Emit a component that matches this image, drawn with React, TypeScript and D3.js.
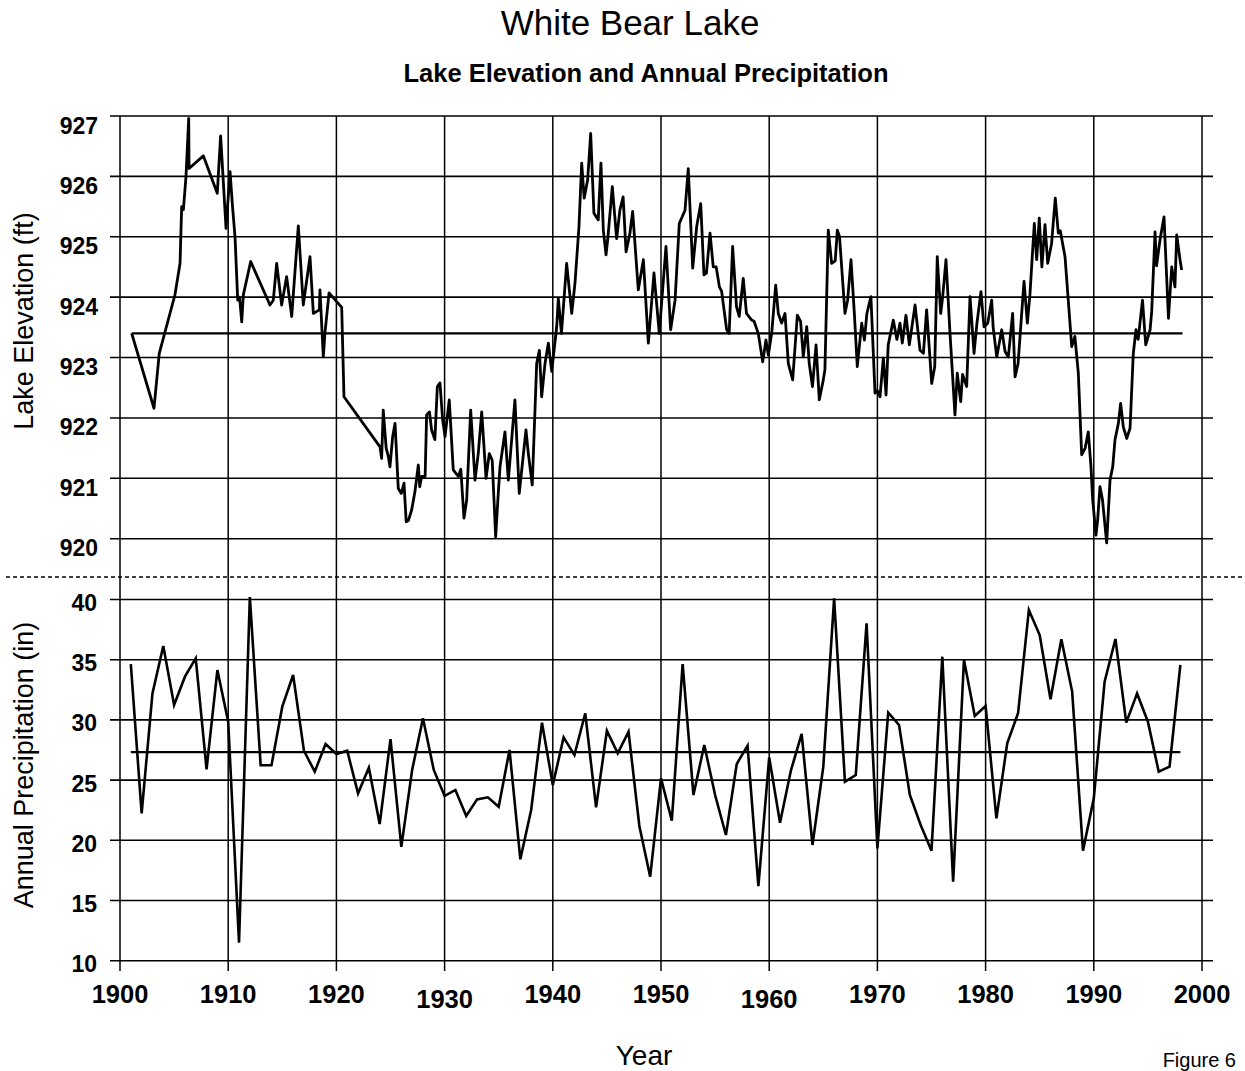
import React from "react";
import * as d3 from "d3";

// ---- Data ----
const elevYears = [
  1901.08, 1903.14, 1903.63, 1905.08, 1905.55, 1905.7, 1905.86, 1906.1, 1906.35, 1906.38,
  1907.7, 1908.99, 1909.3, 1909.8, 1910.17, 1910.4, 1910.63, 1910.88, 1911.05, 1911.25,
  1911.4, 1912.08, 1913.86, 1914.17, 1914.48, 1914.94, 1915.4, 1915.87, 1916.48, 1916.94,
  1917.56, 1917.87, 1918.43, 1918.48, 1918.79, 1918.94, 1919.32, 1920.49, 1920.7, 1924.03,
  1924.18, 1924.33, 1924.6, 1924.8, 1924.95, 1925.2, 1925.42, 1925.72, 1926.0, 1926.25,
  1926.45, 1926.65, 1926.96, 1927.26, 1927.57, 1927.7, 1927.88, 1928.2, 1928.34, 1928.6,
  1928.8, 1929.1, 1929.33, 1929.57, 1929.82, 1930.04, 1930.43, 1930.8, 1931.27, 1931.5,
  1931.79, 1932.04, 1932.41, 1932.81, 1933.11, 1933.43, 1933.83, 1934.13, 1934.4, 1934.72,
  1934.96, 1935.12, 1935.58, 1935.89, 1936.5, 1936.9, 1937.52, 1937.74, 1938.1, 1938.51,
  1938.76, 1938.97, 1939.28, 1939.59, 1939.9, 1940.36, 1940.51, 1940.8, 1941.28, 1941.75,
  1942.05, 1942.42, 1942.67, 1942.9, 1943.22, 1943.5, 1943.8, 1944.2, 1944.45, 1944.67,
  1944.92, 1945.1, 1945.5, 1945.9, 1946.2, 1946.5, 1946.77, 1947.13, 1947.38, 1947.9,
  1948.37, 1948.83, 1949.35, 1949.84, 1950.46, 1950.89, 1951.3, 1951.69, 1952.22, 1952.52,
  1952.93, 1953.3, 1953.67, 1953.97, 1954.2, 1954.53, 1954.83, 1955.1, 1955.4, 1955.6,
  1956.07, 1956.3, 1956.62, 1956.98, 1957.23, 1957.6, 1957.9, 1958.38, 1958.6, 1958.99,
  1959.4, 1959.7, 1959.92, 1960.23, 1960.6, 1960.84, 1961.15, 1961.46, 1961.77, 1962.17,
  1962.6, 1962.9, 1963.15, 1963.47, 1963.7, 1964.0, 1964.33, 1964.63, 1965.0, 1965.15,
  1965.46, 1965.77, 1966.1, 1966.3, 1966.5, 1967.0, 1967.25, 1967.56, 1967.87, 1968.14,
  1968.55, 1968.8, 1969.03, 1969.4, 1969.78, 1970.0, 1970.24, 1970.55, 1970.8, 1971.0,
  1971.47, 1971.8, 1972.09, 1972.3, 1972.64, 1972.95, 1973.48, 1973.94, 1974.25, 1974.55,
  1975.02, 1975.3, 1975.53, 1975.85, 1976.03, 1976.34, 1976.71, 1977.17, 1977.38, 1977.7,
  1977.87, 1978.25, 1978.56, 1978.93, 1979.2, 1979.57, 1979.85, 1980.2, 1980.56, 1980.7,
  1981.03, 1981.49, 1981.8, 1982.1, 1982.5, 1982.72, 1983.0, 1983.55, 1983.86, 1984.1,
  1984.5, 1984.72, 1984.96, 1985.2, 1985.49, 1985.74, 1986.1, 1986.44, 1986.72, 1986.9,
  1987.34, 1987.64, 1987.96, 1988.25, 1988.57, 1988.88, 1989.2, 1989.49, 1989.74, 1989.9,
  1990.2, 1990.35, 1990.57, 1990.8, 1991.19, 1991.5, 1991.75, 1991.96, 1992.27, 1992.48,
  1992.73, 1993.04, 1993.35, 1993.65, 1993.9, 1994.1, 1994.5, 1994.8, 1995.2, 1995.35,
  1995.66, 1995.8, 1996.12, 1996.49, 1996.9, 1997.2, 1997.5, 1997.66, 1997.97, 1998.12,
];
const elevFeet = [
  923.4, 922.16, 923.07, 924.04, 924.56, 925.5, 925.45, 926.0, 926.96, 926.13,
  926.34, 925.72, 926.67, 925.14, 926.08, 925.5, 925.0, 923.95, 924.0, 923.59,
  924.04, 924.59, 923.87, 923.95, 924.56, 923.87, 924.34, 923.68, 925.18, 923.87,
  924.67, 923.73, 923.79, 924.12, 923.01, 923.4, 924.07, 923.83, 922.35, 921.52,
  921.33, 922.13, 921.5, 921.36, 921.19, 921.69, 921.91, 920.83, 920.75, 920.92,
  920.28, 920.3, 920.48, 920.78, 921.22, 920.86, 921.03, 921.03, 922.05, 922.1,
  921.8, 921.64, 922.52, 922.58, 921.97, 921.69, 922.3, 921.14, 921.03, 921.15,
  920.34, 920.64, 922.13, 920.97, 921.41, 922.1, 921.0, 921.41, 921.3, 920.03,
  920.75, 921.19, 921.77, 920.97, 922.3, 920.75, 921.8, 921.41, 920.89, 922.9,
  923.12, 922.35, 922.9, 923.24, 922.77, 923.51, 923.98, 923.4, 924.56, 923.73,
  924.23, 925.17, 926.22, 925.64, 925.94, 926.71, 925.39, 925.28, 926.22, 925.11,
  924.7, 925.0, 925.83, 924.97, 925.44, 925.66, 924.75, 925.06, 925.42, 924.12,
  924.62, 923.24, 924.4, 923.4, 924.84, 923.46, 923.95, 925.22, 925.44, 926.13,
  924.48, 925.17, 925.55, 924.37, 924.4, 925.06, 924.5, 924.5, 924.17, 924.1,
  923.46, 923.4, 924.84, 923.84, 923.68, 924.31, 923.73, 923.62, 923.6, 923.4,
  922.93, 923.29, 923.04, 923.4, 924.2, 923.73, 923.57, 923.73, 922.9, 922.63,
  923.7, 923.6, 923.01, 923.51, 922.9, 922.52, 923.21, 922.3, 922.63, 922.8,
  925.11, 924.56, 924.6, 925.11, 925.0, 923.73, 923.95, 924.62, 923.73, 922.85,
  923.57, 923.29, 923.73, 924.01, 922.41, 922.45, 922.35, 922.99, 922.38, 923.21,
  923.62, 923.3, 923.57, 923.24, 923.7, 923.21, 923.87, 923.12, 923.07, 923.79,
  922.57, 922.85, 924.67, 923.73, 924.0, 924.62, 923.4, 922.05, 922.74, 922.27,
  922.72, 922.52, 924.01, 923.07, 923.57, 924.09, 923.51, 923.57, 923.95, 923.5,
  923.01, 923.46, 923.1, 923.01, 923.73, 922.68, 922.9, 924.26, 923.57, 924.05,
  925.22, 924.62, 925.31, 924.5, 925.2, 924.56, 924.89, 925.64, 925.06, 925.1,
  924.67, 923.95, 923.18, 923.35, 922.74, 921.39, 921.5, 921.77, 921.19, 920.64,
  920.06, 920.3, 920.86, 920.65, 919.93, 920.97, 921.19, 921.64, 921.91, 922.24,
  921.85, 921.66, 921.83, 923.07, 923.46, 923.3, 923.95, 923.21, 923.46, 923.76,
  925.08, 924.52, 924.95, 925.33, 923.65, 924.5, 924.17, 925.03, 924.62, 924.45,
];
const elevMean = 923.4;
const elevMeanSpan = [1901.08, 1998.2];

const precipYears = d3.range(1901, 1999);
const precipInches = [
  34.64, 22.24, 32.2, 36.14, 31.24, 33.59, 35.12, 25.9, 34.14, 29.85,
  11.5, 40.2, 26.23, 26.23, 31.1, 33.73, 27.44, 25.7, 28.0, 27.17,
  27.44, 23.9, 26.03, 21.35, 28.41, 19.45, 25.84, 30.13, 25.84, 23.68,
  24.18, 22.02, 23.4, 23.57, 22.79, 27.5, 18.42, 22.52, 29.77, 24.59,
  28.55, 27.08, 30.55, 22.74, 29.1, 27.23, 29.02, 21.19, 16.98, 25.15,
  21.63, 34.64, 23.76, 27.92, 23.76, 20.44, 26.34, 27.86, 16.2, 26.89,
  21.46, 25.78, 28.83, 19.61, 26.11, 40.1, 24.87, 25.42, 38.02, 19.33,
  30.6, 29.58, 23.76, 21.27, 19.13, 35.25, 16.56, 34.98, 30.32, 31.15,
  21.82, 28.06, 30.55, 39.13, 37.05, 31.71, 36.69, 32.35, 19.13, 23.49,
  33.18, 36.72, 29.77, 32.2, 29.85, 25.7, 26.11, 34.56,
];
const precipMean = 27.33;
const precipMeanSpan = [1901, 1998];

const yearTicks = d3.range(1900, 2001, 10);
const elevTicks = d3.range(920, 928, 1);
const precipTicks = d3.range(10, 41, 5);
const lowLabelYears = [1930, 1960];

const FONT = "'Liberation Sans', Arial, Helvetica, sans-serif";

export default function App() {
  const W = 1245;
  const H = 1071;
  const x = d3.scaleLinear().domain([1900, 2000]).range([120, 1202]);
  const yTop = d3.scaleLinear().domain([920, 927]).range([538.7, 116]);
  const yBot = d3.scaleLinear().domain([10, 40]).range([960.7, 599.5]);

  const elevData = elevYears.map((yr, i) => [yr, elevFeet[i]] as [number, number]);
  const precipData = precipYears.map((yr, i) => [yr, precipInches[i]] as [number, number]);

  const lineTop = d3.line<[number, number]>().x((d) => x(d[0])).y((d) => yTop(d[1]));
  const lineBot = d3.line<[number, number]>().x((d) => x(d[0])).y((d) => yBot(d[1]));

  const gridL = 110;
  const gridR = 1213;

  return (
    <svg
      width={W}
      height={H}
      style={{ position: "absolute", left: 0, top: 0, background: "#fff" }}
      fontFamily={FONT}
    >
      <rect x={0} y={0} width={W} height={H} fill="#fff" />
      {/* Titles */}
      <text x={630} y={35} fontSize={35} textAnchor="middle" fill="#000">
        White Bear Lake
      </text>
      <text x={646} y={82} fontSize={25.5} fontWeight="bold" textAnchor="middle" fill="#000">
        Lake Elevation and Annual Precipitation
      </text>

      {/* Vertical gridlines */}
      {yearTicks.map((t) => (
        <line key={"v" + t} x1={x(t)} x2={x(t)} y1={116} y2={971} stroke="#000" strokeWidth={1.5} />
      ))}
      {/* Top horizontal gridlines */}
      {elevTicks.map((t) => (
        <line key={"ht" + t} x1={gridL} x2={gridR} y1={yTop(t)} y2={yTop(t)} stroke="#000" strokeWidth={1.6} />
      ))}
      {/* Bottom horizontal gridlines */}
      {precipTicks.map((t) => (
        <line key={"hb" + t} x1={gridL} x2={gridR} y1={yBot(t)} y2={yBot(t)} stroke="#000" strokeWidth={1.6} />
      ))}

      {/* Separator */}
      <line x1={6} x2={W} y1={577} y2={577} stroke="#000" strokeWidth={1.5} strokeDasharray="4,3" />

      {/* Mean lines */}
      <line
        x1={x(elevMeanSpan[0])}
        x2={x(elevMeanSpan[1])}
        y1={yTop(elevMean)}
        y2={yTop(elevMean)}
        stroke="#000"
        strokeWidth={2.2}
      />
      <line
        x1={x(precipMeanSpan[0])}
        x2={x(precipMeanSpan[1])}
        y1={yBot(precipMean)}
        y2={yBot(precipMean)}
        stroke="#000"
        strokeWidth={2.2}
      />

      {/* Data lines */}
      <path d={lineTop(elevData) || ""} fill="none" stroke="#000" strokeWidth={2.8} strokeLinejoin="round" />
      <path d={lineBot(precipData) || ""} fill="none" stroke="#000" strokeWidth={2.6} strokeLinejoin="miter" />

      {/* Y tick labels */}
      {elevTicks.map((t) => (
        <text key={"lt" + t} x={98} y={yTop(t) + 17.5} fontSize={23} fontWeight="bold" textAnchor="end" fill="#000">
          {t}
        </text>
      ))}
      {precipTicks.map((t) => (
        <text key={"lb" + t} x={97} y={yBot(t) + 11.5} fontSize={23} fontWeight="bold" textAnchor="end" fill="#000">
          {t}
        </text>
      ))}

      {/* X tick labels */}
      {yearTicks.map((t) => (
        <text
          key={"lx" + t}
          x={x(t)}
          y={1003 + (lowLabelYears.includes(t) ? 5 : 0)}
          fontSize={25.5}
          fontWeight="bold"
          textAnchor="middle"
          fill="#000"
        >
          {t}
        </text>
      ))}

      {/* Axis titles */}
      <text transform="translate(33,321) rotate(-90)" fontSize={27} textAnchor="middle" fill="#000">
        Lake Elevation (ft)
      </text>
      <text transform="translate(33,765) rotate(-90)" fontSize={27} textAnchor="middle" fill="#000">
        Annual Precipitation (in)
      </text>
      <text x={644} y={1065} fontSize={28} textAnchor="middle" fill="#000">
        Year
      </text>
      <text x={1236} y={1067} fontSize={20} textAnchor="end" fill="#000">
        Figure 6
      </text>
    </svg>
  );
}
